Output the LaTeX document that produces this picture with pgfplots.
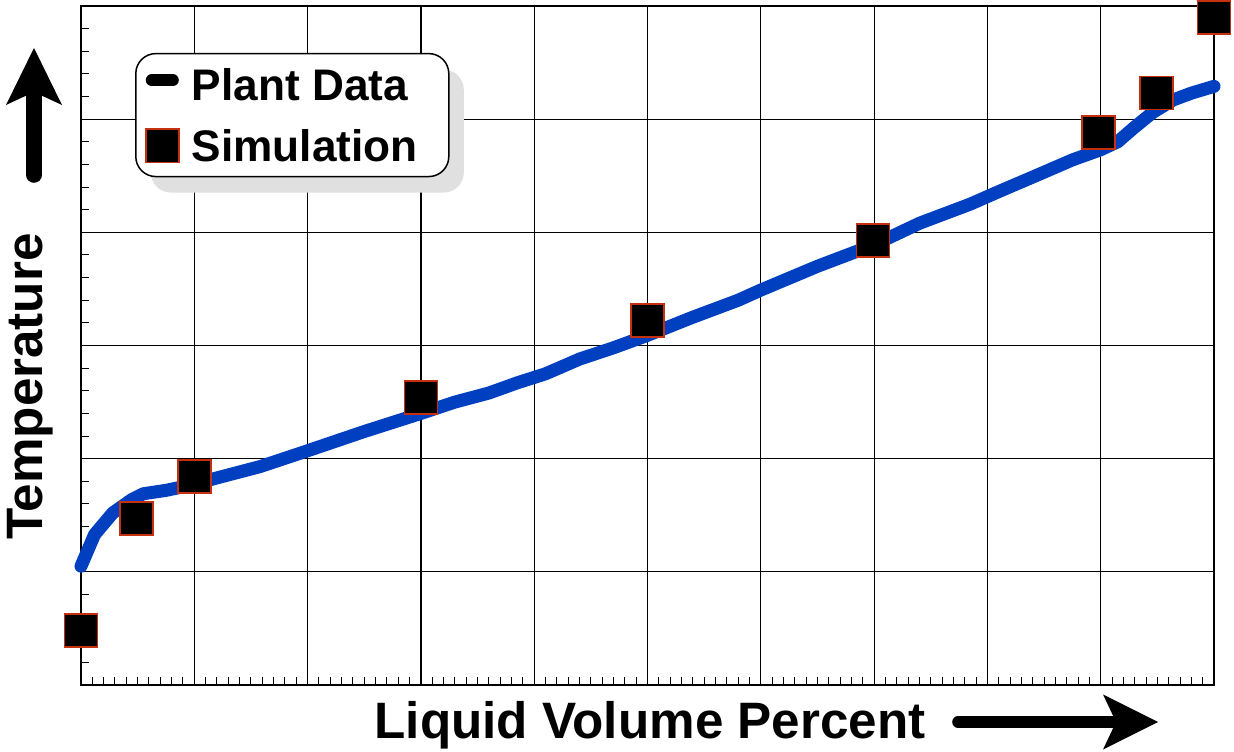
\documentclass[border=0pt]{standalone}
\usepackage{fontspec}
\setmainfont{Liberation Sans}
\usepackage{pgfplots}
\pgfplotsset{compat=1.18}
\usetikzlibrary{arrows.meta,shadows}
\definecolor{plantblue}{RGB}{0,64,192}
\definecolor{simred}{RGB}{196,48,16}
\begin{document}
\begin{tikzpicture}
\begin{axis}[
  at={(40.5pt,33pt)}, anchor=south west,
  scale only axis, width=566.5pt, height=339.5pt,
  xmin=0, xmax=100, ymin=0, ymax=6,
  xtick={0,10,...,100}, ytick={0,1,...,6},
  minor x tick num=9, minor y tick num=4,
  xticklabels={}, yticklabels={},
  tick pos=left, tick align=inside,
  major tick length=8.5pt, minor tick length=4pt,
  tick style={black, line width=0.5pt},
  grid=major, major grid style={black, line width=0.6pt},
  axis line style={black, line width=1pt},
  clip=false,
  xlabel={Liquid Volume Percent}, ylabel={Temperature},
  label style={font=\bfseries\fontsize{25.6pt}{30pt}\selectfont},
  xlabel style={at={(axis description cs:0.5022,-0.0795)}, anchor=base},
  ylabel style={at={(axis description cs:-0.0338,0.4396)}, anchor=base},
  legend style={at={(0.0477,0.931)}, anchor=north west, draw=black,
    line width=0.75pt, rounded corners=10pt, fill=white,
    inner xsep=5pt, inner ysep=5.35pt, row sep=10.75pt,
    font=\bfseries\fontsize{22.1pt}{26pt}\selectfont,
    nodes={inner sep=2pt, text depth=0pt},
    /tikz/every odd column/.append style={column sep=4.5pt},
    drop shadow={shadow xshift=7.5pt, shadow yshift=-8pt, fill=black!12, opacity=1}},
  legend cell align=left,
  legend image post style={sharp corners},
]
\addlegendimage{legend image code/.code={%
  \pgfsetlinewidth{6pt}\pgfsetroundcap\pgfsetstrokecolor{black}%
  \pgfpathmoveto{\pgfpoint{3.29pt}{2pt}}\pgfpathlineto{\pgfpoint{13.79pt}{2pt}}%
  \pgfusepath{stroke}%
  \pgfpathmoveto{\pgfpoint{8pt}{-5pt}}\pgfusepath{discard}}}
\addlegendentry{Plant Data}
\addplot[plantblue, line width=6.5pt, line cap=round, line join=round, forget plot] coordinates {
 (0,1.05) (1.2,1.33) (2.8,1.52) (4.5,1.64) (5.5,1.69) (7.5,1.72) (9.4,1.76)
 (12,1.83) (15.8,1.93) (20,2.07) (25,2.24) (30,2.40) (33,2.50) (36,2.58)
 (38.5,2.67) (41,2.75) (44,2.88) (47,2.98) (50,3.09) (54,3.25) (58,3.40)
 (60,3.49) (65,3.70) (70,3.89) (74,4.08) (78.5,4.25) (81,4.36) (84.5,4.51)
 (87.5,4.64) (90,4.73) (91.5,4.80) (93,4.93) (94.6,5.06) (96.4,5.17)
 (98,5.23) (100,5.29)
};
\addplot[only marks, mark=square*, mark size=8.25pt,
  mark options={fill=black, draw=simred, line width=0.85pt, sharp corners}] coordinates {
 (0,0.48) (4.9,1.47) (10,1.84) (30,2.54) (50,3.22) (69.9,3.93)
 (89.8,4.88) (94.9,5.23) (100,5.90)
};
\addlegendentry{\makebox[121.5pt][l]{Simulation}}
\end{axis}
\draw[line width=7.8pt, line cap=round,
  -{Stealth[length=28.5pt, width=28pt, inset=6.5pt, line width=0pt]}]
  (17pt,288pt) -- (17pt,351.5pt);
\draw[line width=5.8pt, line cap=round,
  -{Stealth[length=27.5pt, width=27.5pt, inset=6.5pt, line width=0pt]}]
  (479pt,14.5pt) -- (579pt,14.5pt);
\pgfresetboundingbox
\path[use as bounding box] (0,0) rectangle (617pt,375.5pt);
\end{tikzpicture}
\end{document}
